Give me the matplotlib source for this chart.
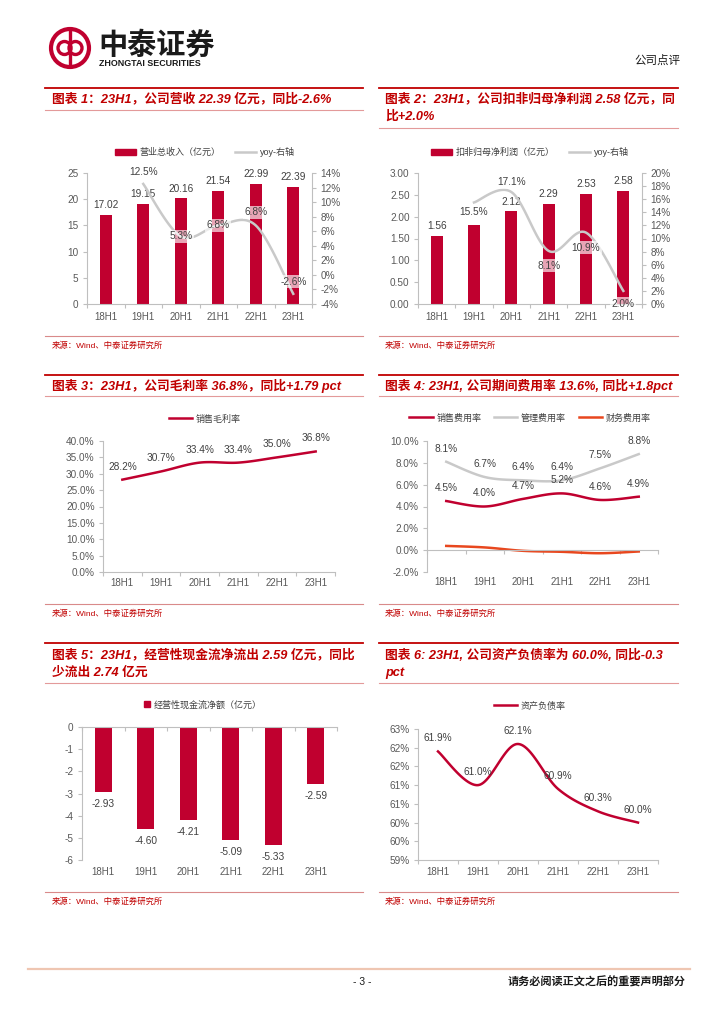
import numpy as np
import matplotlib
matplotlib.use('Agg')
import matplotlib.pyplot as plt
from matplotlib.patches import Circle, Rectangle
from matplotlib.lines import Line2D
from matplotlib.ticker import FixedLocator, FormatStrFormatter

plt.rcParams['font.family'] = ['Liberation Sans', 'Noto Sans CJK SC']

periods = ['18H1', '19H1', '20H1', '21H1', '22H1', '23H1']

revenue = [17.02, 19.15, 20.16, 21.54, 22.99, 22.39]        # 亿元
revenue_yoy = [np.nan, 12.5, 5.3, 6.8, 6.8, -2.6]            # %

profit = [1.56, 1.80, 2.12, 2.29, 2.53, 2.58]                # 亿元
profit_yoy = [np.nan, 15.5, 17.1, 8.1, 10.9, 2.0]            # %

gross_margin = [28.2, 30.7, 33.4, 33.4, 35.0, 36.8]

sell_rate = [4.5, 4.0, 4.7, 5.2, 4.6, 4.9]
admin_rate = [8.1, 6.7, 6.4, 6.4, 7.5, 8.8]
fin_rate = [0.39, 0.25, -0.06, -0.15, -0.28, -0.12]

op_cash = [-2.93, -4.60, -4.21, -5.09, -5.33, -2.59]

debt_ratio = [61.9, 61.0, 62.1, 60.9, 60.3, 60.0]
debt_ticks = [59.0, 59.5, 60.0, 60.5, 61.0, 61.5, 62.0, 62.5]
debt_tick_labels = ['59%', '60%', '60%', '61%', '61%', '62%', '62%', '63%']

# ---- colours ----
RED = '#c0002f'
TITLE_RED = '#c00000'
GRAY_LINE = '#c9c9c9'
ORANGE = '#e8471e'
TICK = '#595959'
LABEL = '#404040'
SPINE = '#bfbfbf'

W, H = 724, 1024
fig = plt.figure(figsize=(W / 100, H / 100), dpi=100)


def px_axes(l, t, r, b):
    return fig.add_axes([l / W, 1 - b / H, (r - l) / W, (b - t) / H])


def hline(x0, x1, y, color, lw):
    fig.add_artist(Line2D([x0 / W, x1 / W], [1 - y / H, 1 - y / H],
                          transform=fig.transFigure, color=color, lw=lw))


def ftext(x, y, s, **kw):
    fig.text(x / W, 1 - y / H, s, **kw)


def smooth(xs, ys, steps=24):
    # Excel-like smoothed line (cubic bezier through the points)
    xs = np.asarray(xs, float)
    ys = np.asarray(ys, float)
    px = np.r_[xs[0], xs, xs[-1]]
    py = np.r_[ys[0], ys, ys[-1]]
    t = np.linspace(0, 1, steps)[:, None]
    out = []
    for i in range(1, len(px) - 2):
        p0 = np.array([px[i], py[i]])
        p3 = np.array([px[i + 1], py[i + 1]])
        c1 = p0 + (np.array([px[i + 1], py[i + 1]]) - np.array([px[i - 1], py[i - 1]])) / 6
        c2 = p3 - (np.array([px[i + 2], py[i + 2]]) - np.array([px[i], py[i]])) / 6
        seg = ((1 - t) ** 3) * p0 + 3 * ((1 - t) ** 2) * t * c1 + 3 * (1 - t) * t ** 2 * c2 + t ** 3 * p3
        out.append(seg)
    out = np.vstack(out)
    return out[:, 0], out[:, 1]


def style_cat_axis(ax, n, pad=5):
    ax.set_xlim(-0.5, n - 0.5)
    ax.set_xticks(np.arange(n))
    ax.set_xticklabels(periods)
    ax.xaxis.set_minor_locator(FixedLocator(np.arange(n + 1) - 0.5))
    ax.tick_params(axis='x', which='major', length=0, pad=pad, labelsize=7, labelcolor=TICK)
    ax.tick_params(axis='x', which='minor', length=3, color=SPINE, width=0.8)
    ax.tick_params(axis='y', length=3, color=SPINE, width=0.8, pad=3, labelsize=7.2, labelcolor=TICK)
    for s in ax.spines.values():
        s.set_color(SPINE)
        s.set_linewidth(0.8)
    ax.spines['top'].set_visible(False)
    ax.spines['right'].set_visible(False)
    ax.set_facecolor('none')


def style_right(ax2):
    for s in ['top', 'left', 'bottom']:
        ax2.spines[s].set_visible(False)
    ax2.spines['right'].set_color(SPINE)
    ax2.spines['right'].set_linewidth(0.8)
    ax2.tick_params(axis='y', length=3, color=SPINE, width=0.8, pad=3, labelsize=7.2, labelcolor=TICK)
    ax2.yaxis.set_major_formatter(FormatStrFormatter('%d%%'))


def label(ax, x, y, s, up_px, boxed=False):
    kw = dict(ha='center', va='center', fontsize=7.3, color=LABEL,
              textcoords='offset points', xytext=(0, up_px * 0.72))
    if boxed:
        kw['bbox'] = dict(boxstyle='square,pad=0.15', facecolor='white', alpha=0.65, edgecolor='none')
    ax.annotate(s, (x, y), **kw)


def bar_labels(ax, xs, vals, skip=()):
    for xi, v in zip(xs, vals):
        if xi in skip:
            continue
        ax.annotate(f'{v:.2f}', (xi, v), ha='center', va='bottom', fontsize=7.3, color=LABEL,
                    textcoords='offset points', xytext=(0, 3.5))


x = np.arange(len(periods))

# ---- header ----
lg = px_axes(48, 26, 92, 70)
lg.set_xlim(0, 44)
lg.set_ylim(44, 0)
lg.set_aspect('equal')
lg.axis('off')
lg.add_patch(Circle((22, 22), 19, fill=False, lw=3, ec=RED))
lg.add_patch(Circle((16.5, 22), 6.5, fill=False, lw=2.4, ec=RED))
lg.add_patch(Circle((27.5, 22), 6.5, fill=False, lw=2.4, ec=RED))
lg.plot([22, 22], [5, 39], color=RED, lw=2.4)

ftext(98, 45, '中泰证券', fontsize=21, fontweight='bold', color='#1a1a1a', va='center', ha='left',
      family=['Noto Sans CJK SC'])
ftext(99, 63, 'ZHONGTAI SECURITIES', fontsize=6.4, fontweight='bold', color='#1a1a1a', va='center')
ftext(680, 61, '公司点评', fontsize=8.3, color='#1a1a1a', va='center', ha='right')

# ---- titles, frame lines, sources ----
title_kw = dict(fontsize=9.2, fontweight='bold', style='italic', color=TITLE_RED, va='center', ha='left')
LEFT, RIGHT = (45, 363), (379, 678)

hline(*LEFT, 88, TITLE_RED, 1.3)
hline(*LEFT, 110, '#e39a9a', 0.8)
ftext(52, 99, '图表 1：23H1，公司营收 22.39 亿元，同比-2.6%', **title_kw)
hline(*RIGHT, 88, TITLE_RED, 1.3)
hline(*RIGHT, 128, '#e39a9a', 0.8)
ftext(385, 99, '图表 2：23H1，公司扣非归母净利润 2.58 亿元，同', **title_kw)
ftext(385, 117, '比+2.0%', **title_kw)

hline(*LEFT, 375, TITLE_RED, 1.3)
hline(*LEFT, 396, '#e39a9a', 0.8)
ftext(52, 386, '图表 3：23H1，公司毛利率 36.8%，同比+1.79 pct', **title_kw)
hline(*RIGHT, 375, TITLE_RED, 1.3)
hline(*RIGHT, 396, '#e39a9a', 0.8)
ftext(385, 386, '图表 4: 23H1, 公司期间费用率 13.6%, 同比+1.8pct', **title_kw)

hline(*LEFT, 643, TITLE_RED, 1.3)
hline(*LEFT, 683, '#e39a9a', 0.8)
ftext(52, 655, '图表 5：23H1，经营性现金流净流出 2.59 亿元，同比', **title_kw)
ftext(52, 673, '少流出 2.74 亿元', **title_kw)
hline(*RIGHT, 643, TITLE_RED, 1.3)
hline(*RIGHT, 683, '#e39a9a', 0.8)
ftext(385, 655, '图表 6: 23H1, 公司资产负债率为 60.0%, 同比-0.3', **title_kw)
ftext(385, 673, 'pct', **title_kw)

src_kw = dict(fontsize=6, color=TITLE_RED, va='center', ha='left')
for y_line, y_txt in [(336, 346), (604, 614), (892, 902)]:
    hline(*LEFT, y_line, '#d98a8a', 0.8)
    hline(*RIGHT, y_line, '#d98a8a', 0.8)
    ftext(52, y_txt, '来源：Wind、中泰证券研究所', **src_kw)
    ftext(385, y_txt, '来源：Wind、中泰证券研究所', **src_kw)

# ---- footer ----
hline(28, 690, 969, '#efc6b2', 1.6)
ftext(362, 982, '- 3 -', fontsize=7.5, color='#1a1a1a', ha='center', va='center')
ftext(686, 982, '请务必阅读正文之后的重要声明部分', fontsize=8, fontweight='bold', color='#1a1a1a',
      ha='right', va='center')

leg_kw = dict(loc='center', frameon=False, fontsize=6.5, labelcolor=LABEL, ncol=3,
              handleheight=0.65, handletextpad=0.4, borderaxespad=0, borderpad=0)

# ---- chart 1: revenue ----
ax = px_axes(87, 173, 312, 304)
ax.bar(x, revenue, width=0.33, color=RED, zorder=2)
ax.set_ylim(0, 25)
ax.set_yticks(np.arange(0, 26, 5))
style_cat_axis(ax, len(periods), pad=6)
bar_labels(ax, x, revenue)
ax2 = ax.twinx()
ax2.set_ylim(-4, 14)
ax2.set_yticks(np.arange(-4, 15, 2))
style_right(ax2)
sx, sy = smooth(x[1:], revenue_yoy[1:])
ax2.plot(sx, sy, color=GRAY_LINE, lw=1.8)
for xi, v, up in zip(x[1:], revenue_yoy[1:], [12, 0, 0, 13, 12]):
    label(ax2, xi, v, f'{v:.1f}%', up, boxed=True)
fig.legend([Rectangle((0, 0), 1, 1, color=RED), Line2D([], [], color=GRAY_LINE, lw=1.8)],
           ['营业总收入（亿元）', 'yoy-右轴'], bbox_to_anchor=(205 / W, 1 - 152 / H),
           handlelength=2.3, columnspacing=1.6, **leg_kw)

# ---- chart 2: net profit ----
ax = px_axes(418, 173, 642, 304)
ax.bar(x, profit, width=0.33, color=RED, zorder=2)
ax.set_ylim(0, 3)
ax.set_yticks(np.arange(0, 3.01, 0.5))
ax.yaxis.set_major_formatter(FormatStrFormatter('%.2f'))
style_cat_axis(ax, len(periods), pad=6)
bar_labels(ax, x, profit, skip=(1,))  # 19H1 value sits under its yoy label
ax2 = ax.twinx()
ax2.set_ylim(0, 20)
ax2.set_yticks(np.arange(0, 21, 2))
style_right(ax2)
sx, sy = smooth(x[1:], profit_yoy[1:])
ax2.plot(sx, sy, color=GRAY_LINE, lw=1.8)
for xi, v, up in zip(x[1:], profit_yoy[1:], [-10, 10, -15, -15, -13]):
    label(ax2, xi, v, f'{v:.1f}%', up, boxed=True)
fig.legend([Rectangle((0, 0), 1, 1, color=RED), Line2D([], [], color=GRAY_LINE, lw=1.8)],
           ['扣非归母净利润（亿元）', 'yoy-右轴'], bbox_to_anchor=(530 / W, 1 - 152 / H),
           handlelength=2.3, columnspacing=1.6, **leg_kw)

# ---- chart 3: gross margin ----
ax = px_axes(103, 441, 335, 572)
sx, sy = smooth(x, gross_margin)
ax.plot(sx, sy, color=RED, lw=1.8)
ax.set_ylim(0, 40)
ax.set_yticks(np.arange(0, 41, 5))
ax.yaxis.set_major_formatter(FormatStrFormatter('%.1f%%'))
style_cat_axis(ax, len(periods), pad=4)
for xi, v in zip(x, gross_margin):
    label(ax, xi, v, f'{v:.1f}%', 13)
fig.legend([Line2D([], [], color=RED, lw=1.8)], ['销售毛利率'],
           bbox_to_anchor=(205 / W, 1 - 419 / H), handlelength=2.6, **leg_kw)

# ---- chart 4: expense rates ----
ax = px_axes(427, 441, 658, 572)
for series, col in [(admin_rate, GRAY_LINE), (sell_rate, RED), (fin_rate, ORANGE)]:
    sx, sy = smooth(x, series)
    ax.plot(sx, sy, color=col, lw=1.8)
ax.set_ylim(-2, 10)
ax.set_yticks(np.arange(-2, 10.1, 2))
ax.yaxis.set_major_formatter(FormatStrFormatter('%.1f%%'))
style_cat_axis(ax, len(periods), pad=19)
ax.spines['bottom'].set_position(('data', 0))
for xi, v in zip(x, admin_rate):
    label(ax, xi, v, f'{v:.1f}%', 13)
for xi, v in zip(x, sell_rate):
    label(ax, xi, v, f'{v:.1f}%', 13)
fig.legend([Line2D([], [], color=RED, lw=1.8), Line2D([], [], color=GRAY_LINE, lw=1.8),
            Line2D([], [], color=ORANGE, lw=1.8)],
           ['销售费用率', '管理费用率', '财务费用率'], bbox_to_anchor=(530 / W, 1 - 418 / H),
           handlelength=2.6, columnspacing=1.4, **leg_kw)

# ---- chart 5: operating cash flow ----
ax = px_axes(82, 727, 337, 860)
ax.bar(x, op_cash, width=0.4, color=RED, zorder=2)
ax.set_ylim(-6, 0)
ax.set_yticks(np.arange(-6, 0.1, 1))
ax.yaxis.set_major_formatter(FormatStrFormatter('%d'))
style_cat_axis(ax, len(periods), pad=5)
ax.spines['bottom'].set_visible(False)
ax.spines['top'].set_visible(True)
ax.tick_params(axis='x', which='minor', bottom=False, top=True, direction='in')
for xi, v in zip(x, op_cash):
    label(ax, xi, v, f'{v:.2f}', -12)
fig.legend([Rectangle((0, 0), 1, 1, color=RED)], ['经营性现金流净额（亿元）'],
           bbox_to_anchor=(203 / W, 1 - 705 / H), handlelength=0.65, **leg_kw)

# ---- chart 6: debt ratio ----
ax = px_axes(418, 729, 658, 860)
sx, sy = smooth(x, debt_ratio)
ax.plot(sx, sy, color=RED, lw=1.8)
ax.set_ylim(debt_ticks[0], debt_ticks[-1])
ax.set_yticks(debt_ticks)
ax.set_yticklabels(debt_tick_labels)
style_cat_axis(ax, len(periods), pad=5)
for xi, v in zip(x, debt_ratio):
    label(ax, xi, v, f'{v:.1f}%', 13)
fig.legend([Line2D([], [], color=RED, lw=1.8)], ['资产负债率'],
           bbox_to_anchor=(530 / W, 1 - 706 / H), handlelength=2.6, **leg_kw)

fig.savefig('out.png', dpi=100)
